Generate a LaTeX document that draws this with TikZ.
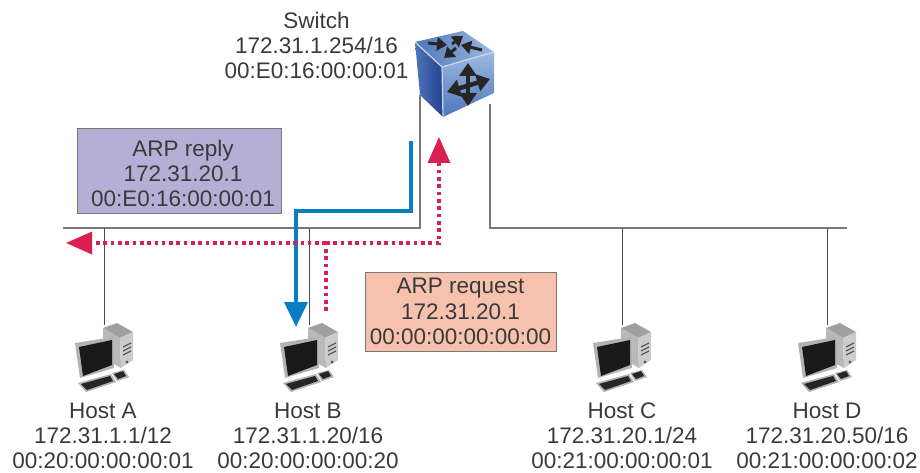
\documentclass[tikz,border=0pt]{standalone}
\usepackage{fontspec}
\setmainfont{Liberation Sans}
\usetikzlibrary{arrows.meta, calc}

\definecolor{textgray}{HTML}{3A3A3C}
\definecolor{linegray}{HTML}{77777A}
\definecolor{dropgray}{HTML}{4A4A4C}
\definecolor{replyfill}{HTML}{B6AFD5}
\definecolor{requestfill}{HTML}{F6C1AD}
\definecolor{replyblue}{HTML}{0B7DC3}
\definecolor{requestred}{HTML}{DC1F52}
\definecolor{cubedark}{HTML}{24408F}
\definecolor{cubemid}{HTML}{4F76BA}
\definecolor{cubelight}{HTML}{9DB9E0}

\tikzset{
	label text/.style={align=center, inner sep=0pt, text=textgray, font=\fontsize{22.5}{25}\selectfont},
	arp box/.style={draw=linegray, line width=1pt, align=center, inner sep=0pt, text=textgray, font=\fontsize{22.5}{25.5}\selectfont},
	wire/.style={draw=linegray, line width=1.4pt},
	drop/.style={draw=dropgray, line width=1pt},
	reply path/.style={draw=replyblue, line width=4pt, -{Triangle[length=25pt, width=23pt]}},
	request path/.style={draw=requestred, line width=3.6pt, dash pattern=on 3.6pt off 3.7pt},
	request tip/.style={-{Triangle[length=26pt, width=22pt]}},
	pics/hostpc/.style={code={
		% tower
		\fill[gray!75] (-1,3) -- (13,-2) -- (29,7) -- (16,13) -- cycle;
		\fill[gray!55] (-1,3) -- (16,13) -- (17,43) -- (-1,33) -- cycle;
		\fill[gray!40] (16,13) -- (29,7) -- (29,35) -- (17,43) -- cycle;
		\draw[gray!70!black, line width=1.2pt] (19,22) -- (27,18) (19,26) -- (27,22) (19,30) -- (27,26);
		\fill[gray!70!black] (23,37) circle (1.6);
		% monitor
		\fill[gray!60] (-29,18) -- (9,12) -- (10,43) -- (-24,53) -- cycle;
		\fill[black!90] (-25,22) -- (8,15) -- (8,40) -- (-21,51) -- cycle;
		% keyboard
		\fill[gray!60] (-26,58) -- (7,49) -- (12,57) -- (-18,67) -- cycle;
		\fill[black!85] (-23,59) -- (6,51) -- (9,56) -- (-17,65) -- cycle;
		\fill[gray!60] (8,48) -- (20,45) -- (25,52) -- (13,56) -- cycle;
		\fill[black!85] (10,49) -- (19,46) -- (22,51) -- (14,54) -- cycle;
	}},
	cube arrow/.style={draw=black!85, line width=3pt, -{Triangle[length=10pt, width=13pt]}},
	cube cross/.style={draw=black!85, line width=4.5pt, {Triangle[length=13pt, width=17pt]}-{Triangle[length=13pt, width=17pt]}},
}

\begin{document}
\begin{tikzpicture}[x=1pt, y=-1pt]
	\useasboundingbox (0,0) rectangle (920,473);

	% wires first, the icons sit on top of them
	\coordinate (busleft) at (63,228);
	\coordinate (busleftup) at (420,95);
	\coordinate (busright) at (847,228);
	\coordinate (busrightup) at (490,104);
	\coordinate (pca) at (104,325);
	\coordinate (pcb) at (309,325);
	\coordinate (pcc) at (622,325);
	\coordinate (pcd) at (827,325);

	\draw[wire] (busleft) -- (busleftup |- busleft) -- (busleftup);
	\draw[wire] (busright) -- (busrightup |- busright) -- (busrightup);
	\draw[drop] (pca |- busleft) -- (pca);
	\draw[drop] (pcb |- busleft) -- (pcb);
	\draw[drop] (pcc |- busright) -- (pcc);
	\draw[drop] (pcd |- busright) -- (pcd);

	% switch cube
	\shade[left color=cubemid, right color=cubedark] (415,42) -- (442,67) -- (443,117) -- (420,95) -- cycle;
	\shade[bottom color=cubemid, top color=cubelight] (442,67) -- (494,52) -- (494,93) -- (443,117) -- cycle;
	\shade[left color=cubemid, right color=cubelight] (415,42) -- (463,31) -- (494,52) -- (442,67) -- cycle;
	\draw[white!70!cubemid, line width=1.2pt] (415,42) -- (442,67) -- (494,52) (442,67) -- (443,117);
	\draw[cube arrow] (428,43) -- (447,45);
	\draw[cube arrow] (482,50) -- (461,45);
	\draw[cube arrow] (452,44) -- (463,36);
	\draw[cube arrow] (456,48) -- (444,58);
	\draw[cube cross] (468,63) -- (468,106);
	\draw[cube cross] (447,92) -- (490,79);

	\pic at (pca) {hostpc};
	\pic at (pcb) {hostpc};
	\pic at (pcc) {hostpc};
	\pic at (pcd) {hostpc};

	\node[label text] (switch) at (316.5,45) {Switch\\172.31.1.254/16\\00:E0:16:00:00:01};
	\node[label text] (hosta) at (103,436) {Host A\\172.31.1.1/12\\00:20:00:00:00:01};
	\node[label text] (hostb) at (308,436) {Host B\\172.31.1.20/16\\00:20:00:00:00:20};
	\node[label text] (hostc) at (622,436) {Host C\\172.31.20.1/24\\00:21:00:00:00:01};
	\node[label text] (hostd) at (827,436) {Host D\\172.31.20.50/16\\00:21:00:00:00:02};

	\node[arp box, fill=replyfill, minimum width=204pt, minimum height=84pt] (reply) at (179,171) {};
	\node[label text] (replytext) at (183,173) {ARP reply\\172.31.20.1\\00:E0:16:00:00:01};
	\node[arp box, fill=requestfill, minimum width=191pt, minimum height=79pt] (request) at (460.5,311.5) {ARP request\\172.31.20.1\\00:00:00:00:00:00};

	% frames
	\coordinate (replystart) at (411,141);
	\coordinate (replycorner) at (411,211);
	\coordinate (replyend) at (296,327);
	\draw[reply path] (replystart) -- (replycorner) -- (replycorner -| replyend) -- (replyend);

	\coordinate (requeststart) at (326,311);
	\coordinate (requestjoin) at (326,243);
	\coordinate (requestcorner) at (439,243);
	\coordinate (requestup) at (439,137);
	\coordinate (requestleft) at (66,243);
	\draw[request path] (requeststart) -- (requestjoin);
	\draw[request path, request tip] (requestjoin) -- (requestcorner) -- (requestup);
	\draw[request path, request tip] (requestjoin) -- (requestleft);
\end{tikzpicture}
\end{document}
